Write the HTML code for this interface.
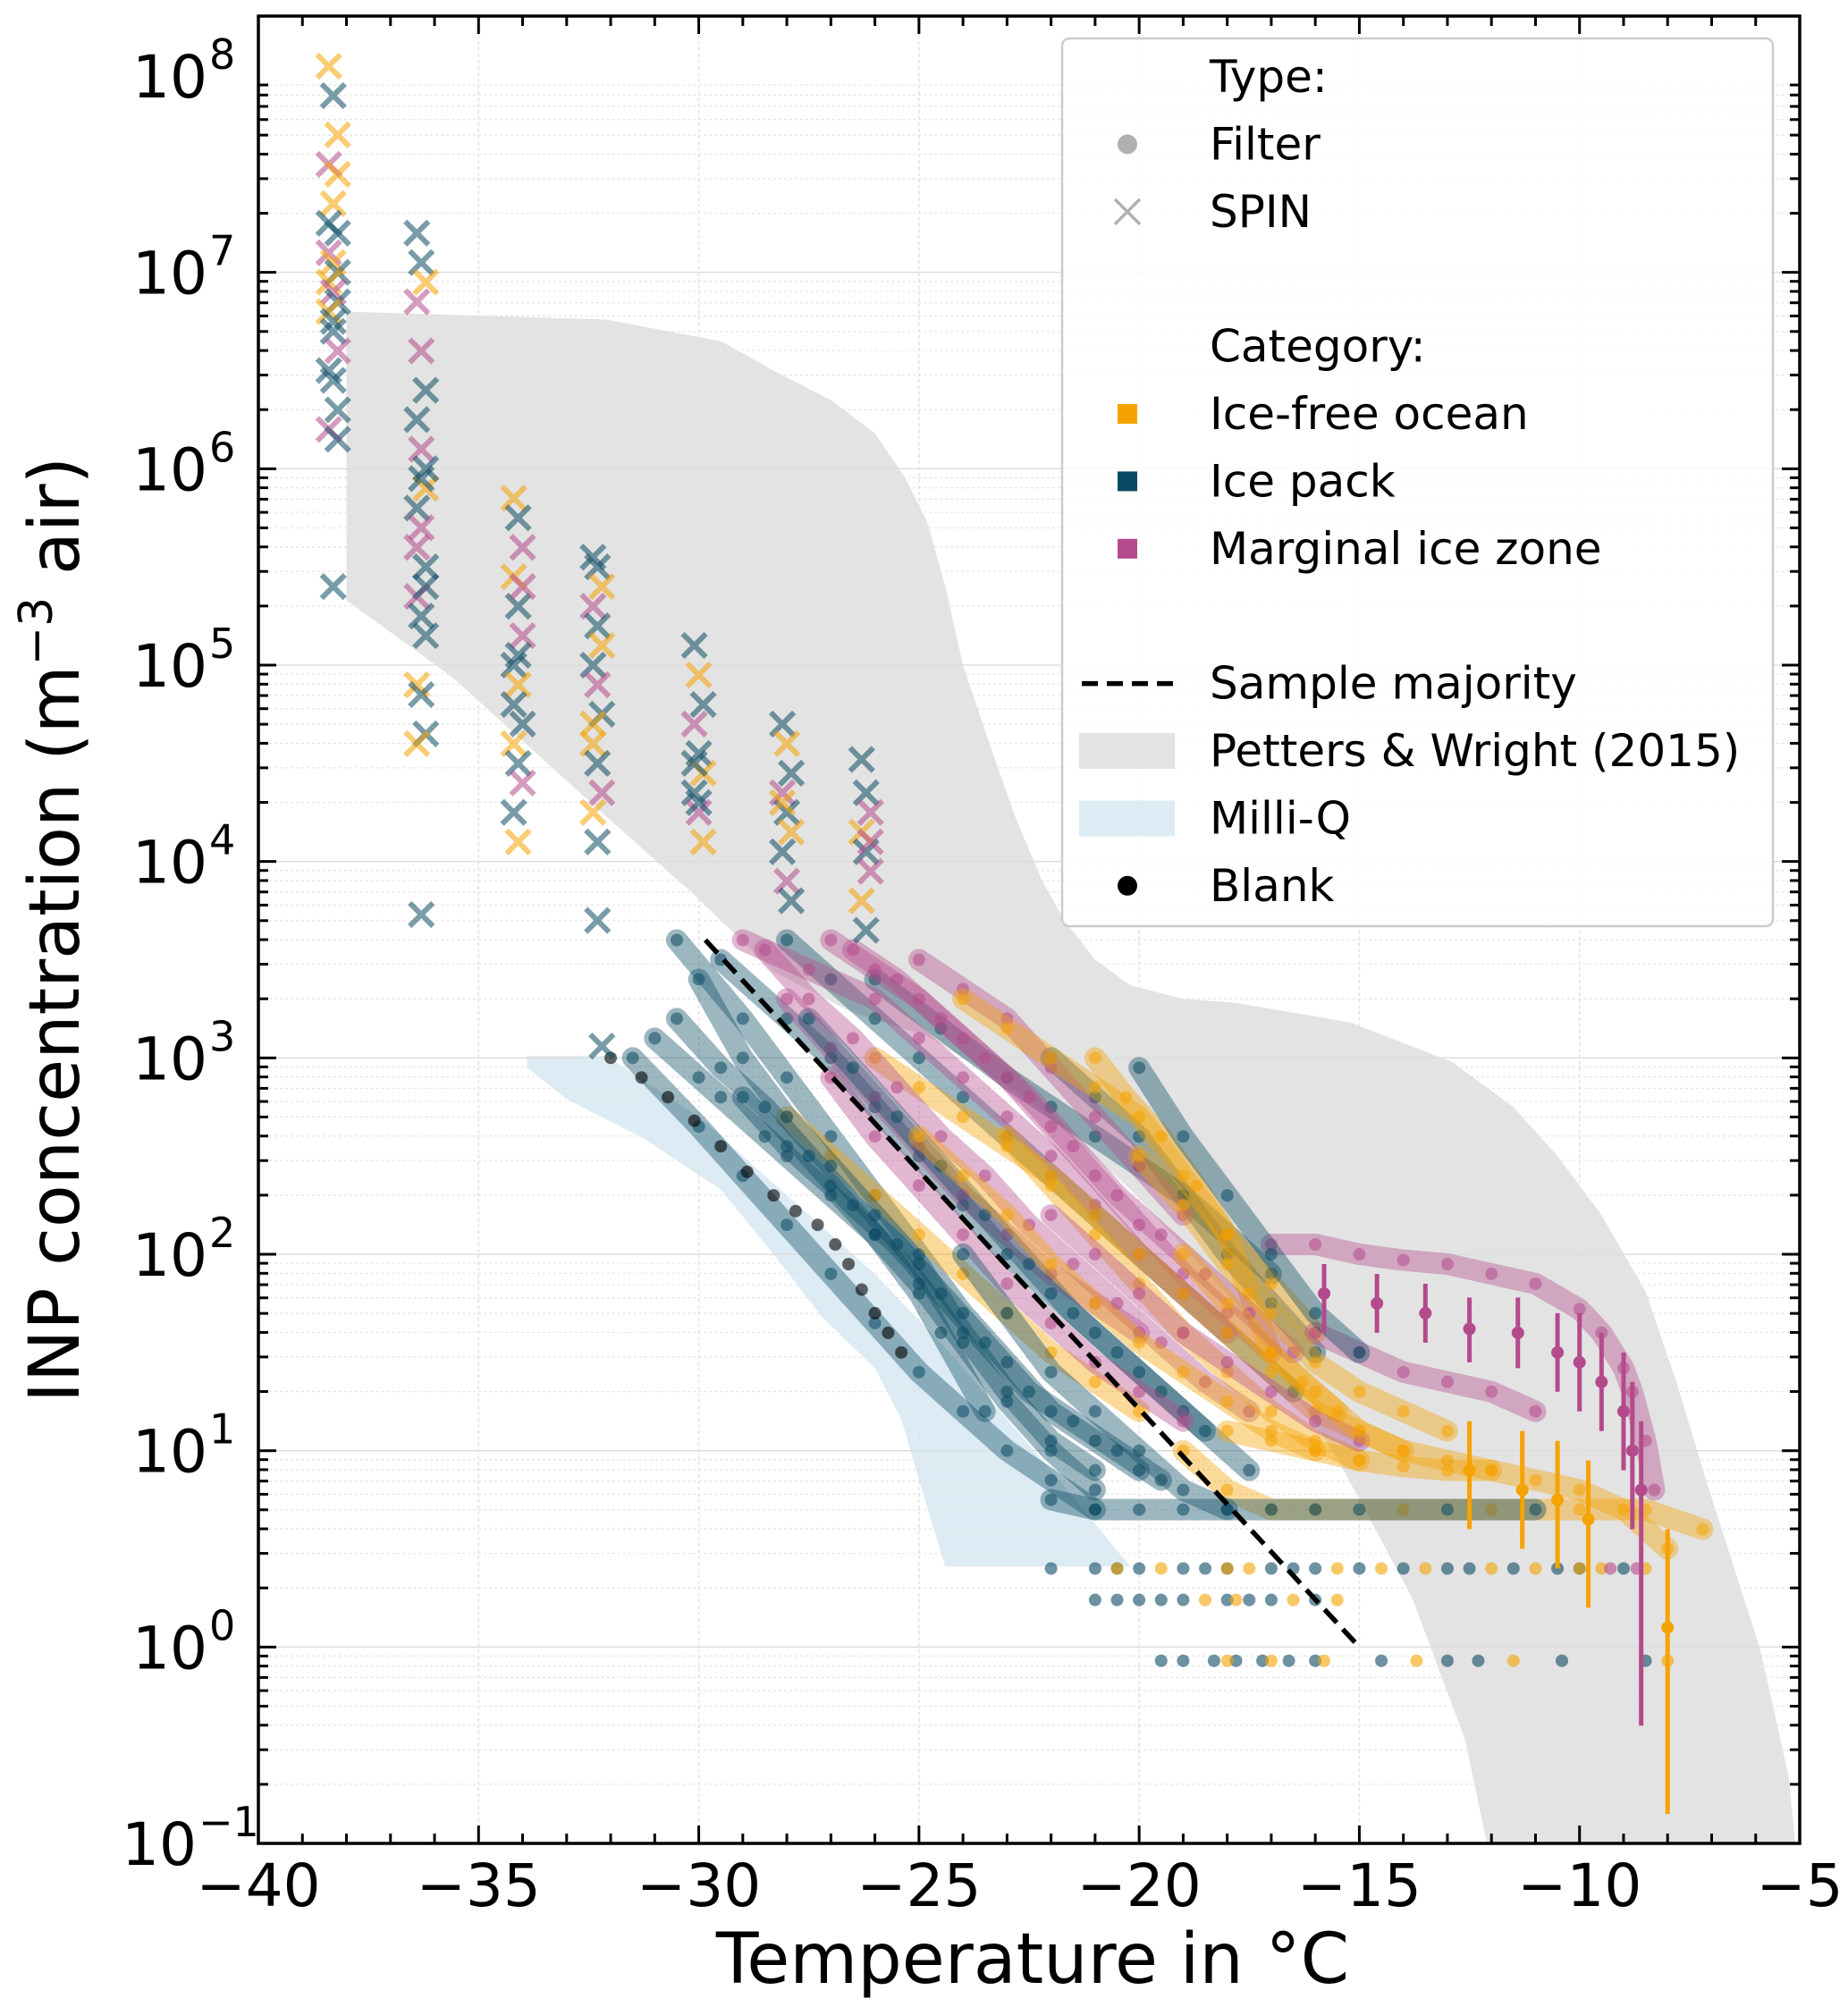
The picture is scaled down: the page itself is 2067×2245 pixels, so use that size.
<!DOCTYPE html>
<html><head><meta charset="utf-8"><style>
html,body{margin:0;padding:0;background:#fff;}
svg{display:block;font-family:"DejaVu Sans","Liberation Sans",sans-serif;}
</style></head><body>
<svg id="chart" width="2067" height="2245" viewBox="0 0 2067 2245" xmlns="http://www.w3.org/2000/svg">
<g id="bands"></g><g id="grid"></g><g id="marks"></g><g id="axes"></g><g id="legend"></g>
</svg>
<script>
const NS="http://www.w3.org/2000/svg";
const xTicks=[-40,-35,-30,-25,-20,-15,-10,-5];
const yTicks=[-1,0,1,2,3,4,5,6,7,8];
const pettersUpper=[[-38,6.8],[-32.1,6.76],[-29.5,6.65],[-28.3,6.5],[-27,6.35],[-26,6.18],[-25.3,5.95],[-24.8,5.72],[-24.4,5.4],[-24,5.0],[-23.4,4.6],[-22.8,4.22],[-22.2,3.9],[-21.7,3.7],[-21,3.5],[-20.2,3.37],[-19,3.3],[-17.8,3.28],[-15.2,3.18],[-12.9,2.98],[-11.5,2.75],[-10.5,2.5],[-9.5,2.2],[-8.5,1.81],[-7.8,1.35],[-7.1,0.83],[-5.9,-0.01],[-5.25,-0.66],[-5.1,-1]];
const pettersLower=[[-38,5.33],[-35.6,4.94],[-32.7,4.35],[-30.1,3.83],[-28.3,3.44],[-26.6,3.24],[-24.8,3.11],[-22.5,2.79],[-20.2,2.33],[-17.8,1.75],[-15.5,0.96],[-13.8,0.25],[-12.6,-0.47],[-12.1,-1]];
const milliQ=[[-33.9,3.01],[-32.1,3.01],[-30,2.7],[-28,2.3],[-26,1.9],[-24.3,1.5],[-22,0.9],[-20.2,0.41],[-24.4,0.41],[-24.8,0.7],[-25.4,1.16],[-26,1.42],[-27.2,1.68],[-28.3,2.0],[-29.5,2.33],[-31.25,2.59],[-33,2.79],[-33.9,2.95]];
const majority=[[-29.85,3.6],[-15.0,0.0]];
const spinT=[-38.3,-36.3,-34.1,-32.3,-30.0,-28.0,-26.2];
const spinLogs=[
 [8.05,7.9,7.7,7.55,7.35,7.2,7.1,7.05,7.0,6.95,6.9,6.85,6.8,6.7,6.6,6.5,6.45,6.3,6.2,5.4,7.5,7.25,6.75,6.15],
 [7.2,7.05,6.95,6.85,6.6,6.4,6.25,6.1,5.9,5.8,5.7,5.5,5.35,5.25,5.15,4.9,4.85,4.65,4.6,3.73,6.0,5.6,5.95,5.4],
 [5.85,5.75,5.6,5.45,5.3,5.15,5.0,4.9,4.7,4.6,4.5,4.4,4.25,4.1,5.4,4.8,5.05],
 [5.55,5.5,5.4,5.3,5.2,5.1,5.0,4.9,4.75,4.6,4.5,4.35,4.25,4.1,3.06,4.7,3.7],
 [5.1,4.95,4.8,4.7,4.55,4.45,4.35,4.25,4.1,4.5,4.3],
 [4.7,4.6,4.45,4.35,4.25,4.15,4.05,3.9,3.8,4.3],
 [4.52,4.35,4.25,4.15,4.05,3.95,3.8,3.65,4.1]];
const spinCats=[
 ["o","p","o","m","o","p","m","o","p","o","m","p","o","p","m","p","p","p","m","p","o","p","p","p"],
 ["p","p","o","m","m","p","p","m","o","p","m","p","m","p","p","o","p","p","o","p","p","m","p","p"],
 ["o","p","m","o","p","m","p","o","p","o","p","m","p","o","m","p","p"],
 ["p","p","o","m","p","o","p","m","p","o","p","m","o","p","p","o","p"],
 ["p","o","p","m","p","o","p","m","o","p","p"],
 ["p","o","p","m","p","o","p","m","p","o"],
 ["p","p","m","o","p","m","o","p","m"]];
const sampleCats=["p","p","p","p","p","p","p","m","m","m","m","m","o","o","o","o","o","m","o","p","p","p","p","p","m","m","m","o","o","o","p","m","o","p"];
const samplePts=[
 [[-31.5,3.0],[-30,2.65],[-29,2.4],[-28,2.15],[-27,1.9],[-26,1.65],[-25,1.4],[-24,1.2],[-23,1.0],[-22,0.85],[-21,0.7]],
 [[-30.5,3.6],[-29,3.2],[-28,2.9],[-27,2.6],[-26,2.3],[-25,2.0],[-24,1.7],[-23,1.45],[-22,1.2],[-21,1.05],[-20,0.9]],
 [[-29.5,3.5],[-28,3.2],[-27,3.0],[-26,2.75],[-25,2.5],[-24,2.25],[-23,2.0],[-22,1.8],[-21,1.6],[-20,1.4],[-19,1.2],[-17.5,0.9]],
 [[-28,3.6],[-27,3.4],[-26,3.2],[-25,3.0],[-24,2.8],[-23,2.6],[-22,2.4],[-21,2.2],[-20,2.0],[-19,1.8],[-18,1.6],[-16.5,1.3]],
 [[-31,3.1],[-30,2.9],[-29.5,2.8],[-28.5,2.6],[-28,2.5],[-27,2.3],[-26,2.1],[-25,1.8],[-24.5,1.6],[-23.5,1.2]],
 [[-26,3.4],[-24.5,3.15],[-23,2.9],[-22,2.75],[-21,2.6],[-20,2.45],[-19,2.3],[-18,2.1],[-17,1.9]],
 [[-22,3.0],[-21,2.8],[-20,2.6],[-19,2.3],[-18,2.0],[-17,1.75],[-16,1.5]],
 [[-29,3.6],[-27.5,3.45],[-26,3.3],[-25,3.1],[-24,2.9],[-23,2.7],[-22,2.5],[-21,2.25],[-20,2.0],[-19,1.8],[-18,1.6]],
 [[-27,3.6],[-26,3.45],[-25,3.3],[-24,3.1],[-23,2.9],[-22,2.65],[-21,2.4],[-20,2.15],[-19,1.9],[-18,1.7],[-17,1.5]],
 [[-28,3.3],[-27,3.05],[-26,2.8],[-25,2.55],[-24,2.3],[-23,2.1],[-22,1.9],[-21,1.75],[-20,1.6]],
 [[-25,3.5],[-24,3.35],[-23,3.2],[-22,2.95],[-21,2.7],[-20,2.45],[-19,2.2]],
 [[-17,2.05],[-16,2.05],[-15,2.0],[-14,1.97],[-13,1.95],[-12,1.9],[-11,1.85],[-10,1.72],[-9.5,1.6],[-9,1.42],[-8.8,1.3],[-8.5,1.05],[-8.3,0.8]],
 [[-26,3.0],[-25,2.85],[-24,2.7],[-23,2.55],[-22,2.4],[-21,2.2],[-20,2.0],[-19,1.8],[-18,1.6],[-17,1.4],[-16,1.2],[-15,1.1],[-14,1.0]],
 [[-24,3.3],[-23,3.15],[-22,3.0],[-21,2.85],[-20,2.7],[-19,2.4],[-18,2.1],[-17,1.85],[-16,1.6]],
 [[-21,3.0],[-20.3,2.8],[-19.5,2.6],[-18.7,2.35],[-18,2.1],[-17.5,1.8],[-17,1.5],[-16.3,1.35],[-15.5,1.2]],
 [[-28,2.7],[-27,2.5],[-26,2.3],[-25,2.1],[-24,1.9],[-23,1.7],[-22,1.5],[-21,1.35],[-20,1.2]],
 [[-18,1.1],[-17,1.05],[-16,1.0],[-15,0.95],[-14,0.92],[-13,0.9],[-12,0.9],[-11,0.85],[-10,0.8],[-9,0.7],[-8,0.5]],
 [[-16,1.6],[-15,1.5],[-14,1.4],[-13,1.35],[-12,1.3],[-11,1.2]],
 [[-19,1.0],[-18,0.8],[-17,0.7],[-16,0.7],[-14,0.7],[-12,0.7],[-10,0.7],[-8.5,0.7],[-7.2,0.6]],
 [[-22,0.75],[-21,0.7],[-20,0.7],[-19,0.7],[-18,0.7],[-17,0.7],[-16,0.7],[-15,0.7],[-13,0.7],[-11,0.7]],
 [[-30,3.4],[-29,3.0],[-28,2.7],[-27,2.45],[-26,2.2],[-25,1.95],[-24,1.6],[-23,1.3],[-22,1.05],[-21,0.9]],
 [[-30.5,3.2],[-29.5,2.95],[-28.5,2.75],[-27.5,2.5],[-26.5,2.25],[-25.5,2.05],[-24.5,1.8],[-23.5,1.55],[-22.5,1.3],[-21.5,1.15],[-20.5,1.0],[-19.5,0.85]],
 [[-29,2.8],[-28,2.55],[-27,2.35],[-26,2.1],[-25,1.85],[-24,1.55],[-23,1.25],[-22,1.0],[-21,0.8]],
 [[-27.5,3.2],[-26.5,2.95],[-25.5,2.7],[-24.5,2.45],[-23.5,2.2],[-22.5,1.95],[-21.5,1.7],[-20.5,1.5],[-19.5,1.3],[-18.5,1.1]],
 [[-28.5,3.55],[-27.5,3.3],[-26.5,3.1],[-25.5,2.85],[-24.5,2.6],[-23.5,2.4],[-22.5,2.15],[-21.5,1.95],[-20.5,1.75],[-19.5,1.55],[-18.5,1.35],[-17.5,1.2]],
 [[-26.5,3.55],[-25.5,3.4],[-24.5,3.2],[-23.5,3.0],[-22.5,2.8],[-21.5,2.55],[-20.5,2.3],[-19.5,2.1],[-18.5,1.9],[-17.5,1.7],[-16.5,1.5]],
 [[-27,2.9],[-26,2.6],[-25,2.35],[-24,2.1],[-23,1.85],[-22,1.65],[-21,1.45],[-20,1.3],[-19,1.15]],
 [[-25,2.6],[-24,2.4],[-23,2.2],[-22,1.95],[-21,1.75],[-20,1.55],[-19,1.4],[-18,1.25],[-17,1.1],[-16,1.0]],
 [[-23,2.6],[-22,2.35],[-21,2.1],[-20,1.85],[-19,1.6],[-18,1.4],[-17,1.2],[-16,1.05],[-15,0.95]],
 [[-20,2.5],[-19,2.25],[-18,1.95],[-17,1.7],[-16,1.45],[-15,1.3],[-14,1.2],[-13,1.1]],
 [[-24,2.0],[-23,1.7],[-22,1.4],[-21,1.2],[-20,1.0],[-19,0.8],[-18,0.7]],
 [[-22,2.2],[-21,2.0],[-20,1.8],[-19,1.6],[-18,1.45],[-17,1.3],[-16,1.15],[-15,1.05]],
 [[-19,2.0],[-18,1.75],[-17,1.5],[-16,1.3],[-15,1.1],[-14,1.0],[-13,0.95],[-12,0.9]],
 [[-20,2.95],[-19,2.6],[-18,2.3],[-17,2.0],[-16,1.7],[-15,1.5]]];
const blankPts=[[-32,3.0],[-31.3,2.9],[-30.7,2.8],[-30.1,2.68],[-29.5,2.55],[-28.9,2.42],[-28.3,2.3],[-27.8,2.22],[-27.3,2.15],[-26.9,2.05],[-26.6,1.95],[-26.3,1.82],[-26,1.7],[-25.7,1.6],[-25.4,1.5]];
const rowCats=["p","o","p","o","p","o","m"];
const rowLogs=[0.4,0.4,0.24,0.24,-0.07,-0.07,0.4];
const rowTs=[
 [-22,-21,-20.5,-20,-19,-18.5,-18,-17,-16.5,-16,-15,-14,-13,-12.5,-11.5,-10.5,-10,-9],
 [-20.5,-19.5,-18,-17.5,-15.5,-14.5,-13.5,-12,-11,-10,-9.5,-8.5],
 [-21,-20.5,-20,-19.5,-19,-18,-17.5,-17,-16],
 [-18.5,-17.8,-16.5,-15.5],
 [-19.5,-19,-18.3,-17.8,-17.2,-16.6,-16,-14.5,-13,-12.3,-10.4,-8.5],
 [-18,-17,-15.8,-13.7,-11.5,-8],
 [-9.3,-8.7]];
const errCats=["m","m","m","m","m","m","m","m","m","m","m","o","o","o","o","o"];
const errT=[-15.8,-14.6,-13.5,-12.5,-11.4,-10.5,-10,-9.5,-9,-8.8,-8.6,-12.5,-11.3,-10.5,-9.8,-8];
const errMid=[1.8,1.75,1.7,1.62,1.6,1.5,1.45,1.35,1.2,1.0,0.8,0.9,0.8,0.75,0.65,0.1];
const errLo=[1.6,1.6,1.55,1.45,1.42,1.3,1.2,1.1,0.9,0.6,-0.4,0.6,0.5,0.4,0.2,-0.85];
const errHi=[1.95,1.9,1.85,1.78,1.78,1.7,1.7,1.6,1.5,1.35,1.15,1.15,1.1,1.05,0.95,0.6];

const L=289,R=2013,T0=18,B=2062;
const X=t=>L+(t+40)*(R-L)/35;
const Y=l=>85+(8-l)*219.67;
const COL={o:"#f5a300",p:"#0b4a63",m:"#b44a8c"};
function el(tag,attrs,parent){const e=document.createElementNS(NS,tag);for(const k in attrs)e.setAttribute(k,attrs[k]);parent.appendChild(e);return e;}
const bands=document.getElementById("bands"),grid=document.getElementById("grid"),marks=document.getElementById("marks"),axes=document.getElementById("axes"),legend=document.getElementById("legend");
const poly=pts=>pts.map(p=>X(p[0]).toFixed(1)+","+Y(p[1]).toFixed(1)).join(" ");

let e=el("polygon",{points:poly(pettersUpper.concat(pettersLower.slice().reverse())),fill:"#e3e3e3"},bands);


e=el("polygon",{points:poly(milliQ),fill:"#dcebf4"},bands);



for(let d=-1;d<8;d++){for(let k=1;k<10;k++){const l=d+Math.log10(k);if(l>8.3)continue;const y=Y(l);
 e=el("line",{x1:L,x2:R,y1:y,y2:y,stroke:k==1?"#ddd":"#e4e4e4","stroke-width":k==1?1.5:1.2,"stroke-dasharray":k==1?"":"3,3"},grid);
 
 
 el("line",{x1:L,x2:L+(k==1?20:11),y1:y,y2:y,stroke:"#000","stroke-width":3},axes);
 el("line",{x1:R,x2:R-(k==1?20:11),y1:y,y2:y,stroke:"#000","stroke-width":3},axes);}}
for(let t=-40;t<=-5;t++){const x=X(t);const maj=(t%5==0);
 if(maj){e=el("line",{x1:x,x2:x,y1:T0,y2:B,stroke:"#e2e2e2","stroke-width":1.5,"stroke-dasharray":"4,3"},grid);
 
 }
 el("line",{x1:x,x2:x,y1:B,y2:B-(maj?20:11),stroke:"#000","stroke-width":3},axes);
 el("line",{x1:x,x2:x,y1:T0,y2:T0+(maj?20:11),stroke:"#000","stroke-width":3},axes);}

samplePts.forEach((pts,i)=>{const c=COL[sampleCats[i]];
 e=el("polyline",{points:poly(pts),fill:"none",stroke:c,"stroke-width":24,"stroke-opacity":0.4,"stroke-linecap":"round","stroke-linejoin":"round"},marks);
 
 
 pts.forEach(p=>{e=el("circle",{cx:X(p[0]),cy:Y(p[1]),r:7,fill:c,"fill-opacity":0.55},marks);
 
 });});
rowTs.forEach((ts,i)=>{ts.forEach(t=>{e=el("circle",{cx:X(t),cy:Y(rowLogs[i]),r:7,fill:COL[rowCats[i]],"fill-opacity":0.6},marks);
 
 });});
blankPts.forEach(p=>{e=el("circle",{cx:X(p[0]),cy:Y(p[1]),r:7,fill:"#000","fill-opacity":0.6},marks);
 
 });
errT.forEach((t,i)=>{const c=COL[errCats[i]];
 e=el("line",{x1:X(t),x2:X(t),y1:Y(errLo[i]),y2:Y(errHi[i]),stroke:c,"stroke-width":5},marks);
 
 
 e=el("circle",{cx:X(t),cy:Y(errMid[i]),r:7,fill:c},marks);
 
 });
spinT.forEach((t,i)=>{spinLogs[i].forEach((l,j)=>{const c=COL[spinCats[i][j]];const x=X(t)+((j%3)-1)*5,y=Y(l),s=13;
 e=el("path",{d:`M${x-s},${y-s}L${x+s},${y+s}M${x-s},${y+s}L${x+s},${y-s}`,stroke:c,"stroke-width":6,"stroke-opacity":0.55,fill:"none"},marks);
 
 });});
e=el("line",{x1:X(majority[0][0]),y1:Y(majority[0][1]),x2:X(majority[1][0]),y2:Y(majority[1][1]),stroke:"#000","stroke-width":5.5,"stroke-dasharray":"20,10"},marks);



e=el("rect",{x:L,y:T0,width:R-L,height:B-T0,fill:"none",stroke:"#000","stroke-width":3.5},axes);


xTicks.forEach(t=>{e=el("text",{x:X(t),y:2132,"font-size":66,"text-anchor":"middle",fill:"#000"},axes);e.textContent=(t<0?"\u2212"+(-t):t);
 
 });
yTicks.forEach(l=>{e=el("text",{x:l<0?220:232,y:Y(l)+24,"font-size":66,"text-anchor":"end",fill:"#000"},axes);e.textContent="10";
 
 
 const s=el("text",{x:l<0?222:234,y:Y(l)-8,"font-size":46,"text-anchor":"start",fill:"#000"},axes);s.textContent=(l<0?"\u2212"+(-l):l);
 
 });
e=el("text",{x:1155,y:2218,"font-size":78,"text-anchor":"middle",fill:"#000"},axes);e.textContent="Temperature in \u00b0C";


e=el("text",{x:0,y:0,"font-size":78,"text-anchor":"middle",fill:"#000",transform:"translate(88,1040) rotate(-90)"},axes);
e.innerHTML='INP concentration (m<tspan font-size="52" dy="-30">\u22123</tspan><tspan dy="30"> air)</tspan>';



e=el("rect",{x:1188,y:43,width:795,height:993,rx:8,fill:"#fff","fill-opacity":0.85,stroke:"#ccc","stroke-width":2.5},legend);


const ly=i=>86+i*75.4, tx=1353, mx=1261;
const entries=[["Type:",null],["Filter","fdot"],["SPIN","fx"],["",null],["Category:",null],["Ice-free ocean","o"],["Ice pack","p"],["Marginal ice zone","m"],["",null],["Sample majority","dash"],["Petters & Wright (2015)","gray"],["Milli-Q","blue"],["Blank","blk"]];
entries.forEach((en,i)=>{if(!en[0])return;const y=ly(i);
 const g=el("g",{},legend);
 
 
 const t=el("text",{x:tx,y:y+17,"font-size":50,fill:"#000"},g);t.textContent=en[0];
 const k=en[1];
 if(k=="fdot")el("circle",{cx:mx,cy:y,r:11,fill:"#b0b0b0"},g);
 if(k=="fx")el("path",{d:`M${mx-14},${y-14}L${mx+14},${y+14}M${mx-14},${y+14}L${mx+14},${y-14}`,stroke:"#b0b0b0","stroke-width":3.5},g);
 if(k=="o"||k=="p"||k=="m")el("rect",{x:mx-11,y:y-11,width:22,height:22,fill:COL[k]},g);
 if(k=="dash")el("line",{x1:1210,x2:1312,y1:y,y2:y,stroke:"#000","stroke-width":5.5,"stroke-dasharray":"18,10"},g);
 if(k=="gray")el("rect",{x:1207,y:y-20,width:107,height:40,fill:"#e3e3e3"},g);
 if(k=="blue")el("rect",{x:1207,y:y-20,width:107,height:40,fill:"#dcebf4"},g);
 if(k=="blk")el("circle",{cx:mx,cy:y,r:11,fill:"#000"},g);});
</script>
</body></html>
